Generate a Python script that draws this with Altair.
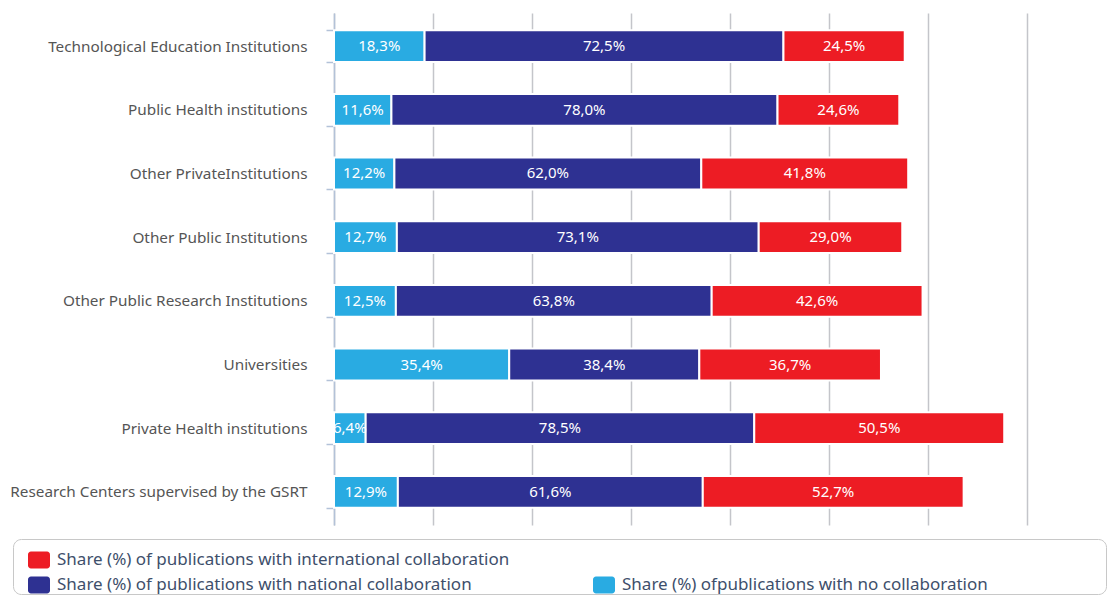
import altair as alt
import pandas as pd

categories = [
    "Technological Education Institutions",
    "Public Health institutions",
    "Other PrivateInstitutions",
    "Other Public Institutions",
    "Other Public Research Institutions",
    "Universities",
    "Private Health institutions",
    "Research Centers supervised by the GSRT",
]
no_collab = [18.3, 11.6, 12.2, 12.7, 12.5, 35.4, 6.4, 12.9]
national = [72.5, 78.0, 62.0, 73.1, 63.8, 38.4, 78.5, 61.6]
international = [24.5, 24.6, 41.8, 29.0, 42.6, 36.7, 50.5, 52.7]

series_names = [
    "Share (%) ofpublications with no collaboration",
    "Share (%) of publications with national collaboration",
    "Share (%) of publications with international collaboration",
]
series_colors = ["#29abe2", "#2e3192", "#ed1c24"]

rows = []
for i, c in enumerate(categories):
    for k, vals in enumerate([no_collab, national, international]):
        v = vals[i]
        rows.append({
            "category": c,
            "series": series_names[k],
            "value": v,
            "order": k,
            "label": f"{v:.1f}".replace(".", ",") + "%",
        })
df = pd.DataFrame(rows)

FONT = "Noto Sans"
PLOT_W = 1014
AXIS_X = 321

xscale = alt.Scale(domain=[0, 140], nice=False, range=[AXIS_X, PLOT_W])
yscale = alt.Scale(domain=categories, paddingInner=0.5, paddingOuter=0.27)

y_axis = alt.Axis(
    offset=-AXIS_X,
    domainColor="#b3c2d8", domainWidth=1.5,
    tickColor="#b3c2d8", tickWidth=1.5, tickSize=8, tickBand="extent",
    labelFont=FONT, labelFontSize=15.3, labelColor="#555555",
    labelPadding=19, labelLimit=400,
)
x_axis = alt.Axis(
    values=[0, 20, 40, 60, 80, 100, 120, 140],
    labels=False, ticks=False, domain=False,
    grid=True, gridColor="#c4c5ca", gridWidth=1.5,
)

bars = alt.Chart(df).mark_bar(stroke="white", strokeWidth=2).encode(
    y=alt.Y("category:N", sort=categories, title=None, scale=yscale, axis=y_axis),
    x=alt.X("value:Q", stack="zero", title=None, scale=xscale, axis=x_axis),
    color=alt.Color("series:N", scale=alt.Scale(domain=series_names, range=series_colors), legend=None),
    order=alt.Order("order:Q"),
)

labels = alt.Chart(df).transform_stack(
    stack="value", groupby=["category"], as_=["v0", "v1"], sort=[alt.SortField("order", "ascending")]
).transform_calculate(
    mid="(datum.v0 + datum.v1) / 2"
).mark_text(
    color="white", font=FONT, fontSize=15, align="center", baseline="middle"
).encode(
    y=alt.Y("category:N", sort=categories, title=None, scale=yscale, axis=y_axis),
    x=alt.X("mid:Q", title=None, scale=xscale, axis=x_axis),
    text="label:N",
)

main = alt.layer(bars, labels).properties(width=PLOT_W, height=512, view=alt.ViewBackground(stroke=None))

# legend
leg_names = [series_names[2], series_names[1], series_names[0]]
leg_colors = [series_colors[2], series_colors[1], series_colors[0]]
leg_col = [0, 0, 1]
leg_row = [0, 1, 1]
leg_df = pd.DataFrame({"name": leg_names, "color": leg_colors, "col": leg_col, "row": leg_row})

lx = alt.X("col:Q", scale=alt.Scale(domain=[0, 1], range=[26, 591]), axis=None)
ly = alt.Y("row:Q", scale=alt.Scale(domain=[0, 1], range=[21, 46]), axis=None)

leg_sw = alt.Chart(leg_df).mark_rect(width=22, height=17, cornerRadius=3).encode(
    x=lx, y=ly, color=alt.Color("color:N", scale=None)
)
leg_tx = alt.Chart(leg_df).mark_text(
    align="left", baseline="middle", dx=18, font=FONT, fontSize=17, color="#3e4f6b"
).encode(x=lx, y=ly, text="name:N")

legend = alt.layer(leg_sw, leg_tx).properties(
    width=1093, height=55,
    view=alt.ViewBackground(stroke="#c8c8c8", strokeWidth=1, cornerRadius=8),
)

chart = alt.vconcat(main, legend, spacing=13).properties(
    padding={"left": 1, "top": -2, "right": 0, "bottom": 0}
).configure_view(stroke=None)

chart.save("out.html", embed_options={"renderer": "svg", "actions": False})
